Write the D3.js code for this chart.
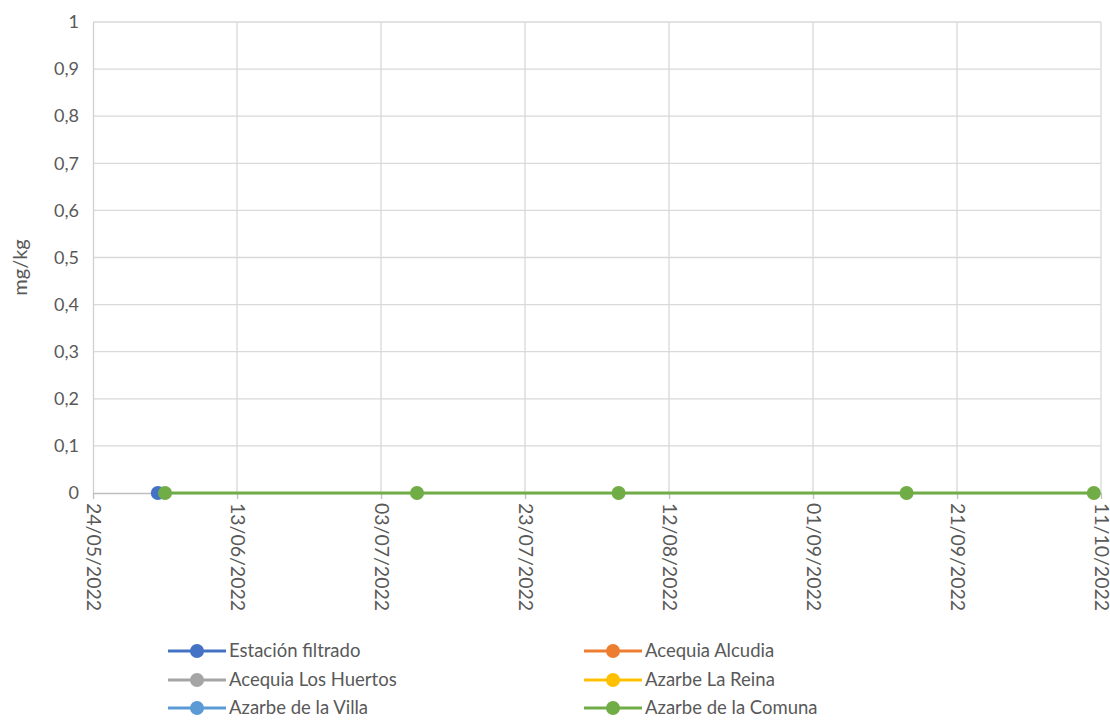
<!DOCTYPE html>
<html>
<head>
<meta charset="utf-8">
<script src="https://cdn.jsdelivr.net/npm/d3@7"></script>
<style>
  html, body { margin: 0; padding: 0; background: #fff; }
  svg { display: block; }
  text { font-family: Lato, "Open Sans", sans-serif; fill: #595959; }
</style>
</head>
<body>
<svg id="chart" width="1110" height="722"></svg>
<script>
// Series names and colours
const seriesNames = ["Estación filtrado", "Acequia Alcudia", "Acequia Los Huertos",
                     "Azarbe La Reina", "Azarbe de la Villa", "Azarbe de la Comuna"];
const seriesColors = ["#4472C4", "#ED7D31", "#A5A5A5", "#FFC000", "#5B9BD5", "#70AD47"];

// Sampling dates and values (mg/kg) per series
const estacionDates = ["2022-06-02"];
const estacionValues = [0];
const alcudiaDates = [];
const alcudiaValues = [];
const huertosDates = [];
const huertosValues = [];
const reinaDates = [];
const reinaValues = [];
const villaDates = [];
const villaValues = [];
const comunaDates = ["2022-06-03", "2022-07-08", "2022-08-05", "2022-09-14", "2022-10-10"];
const comunaValues = [0, 0, 0, 0, 0];

// Axis ticks
const xTickLabels = ["24/05/2022", "13/06/2022", "03/07/2022", "23/07/2022",
                     "12/08/2022", "01/09/2022", "21/09/2022", "11/10/2022"];
const yTicks = [0, 0.1, 0.2, 0.3, 0.4, 0.5, 0.6, 0.7, 0.8, 0.9, 1];

const parseISO = d3.timeParse("%Y-%m-%d");
const parseDMY = d3.timeParse("%d/%m/%Y");

const seriesDates = [estacionDates, alcudiaDates, huertosDates, reinaDates, villaDates, comunaDates];
const seriesValues = [estacionValues, alcudiaValues, huertosValues, reinaValues, villaValues, comunaValues];
const series = seriesNames.map((name, i) => ({
  name,
  color: seriesColors[i],
  points: seriesDates[i].map((d, j) => ({ date: parseISO(d), value: seriesValues[i][j] }))
}));

const svg = d3.select("#chart");
const plotLeft = 93, plotRight = 1101, plotTop = 22, plotBottom = 493;

const xTickDates = xTickLabels.map(parseDMY);
const x = d3.scaleTime()
  .domain([xTickDates[0], xTickDates[xTickDates.length - 1]])
  .range([plotLeft, plotRight]);
const y = d3.scaleLinear().domain([0, 1]).range([plotBottom, plotTop]);

const fmtY = v => d3.format(".1~f")(v).replace(".", ",");
const fmtX = d3.timeFormat("%d/%m/%Y");

// Horizontal gridlines
svg.append("g")
  .selectAll("line")
  .data(yTicks.filter(v => v > 0))
  .join("line")
  .attr("x1", plotLeft).attr("x2", plotRight)
  .attr("y1", d => y(d)).attr("y2", d => y(d))
  .attr("stroke", "#d9d9d9").attr("stroke-width", 1.3);

// Vertical gridlines
svg.append("g")
  .selectAll("line")
  .data(xTickDates.slice(1))
  .join("line")
  .attr("x1", d => x(d)).attr("x2", d => x(d))
  .attr("y1", plotTop).attr("y2", plotBottom)
  .attr("stroke", "#d9d9d9").attr("stroke-width", 1.3);

// Y axis
const yAxis = svg.append("g")
  .attr("transform", `translate(${plotLeft},0)`)
  .call(d3.axisLeft(y).tickValues(yTicks).tickFormat(fmtY).tickSize(0).tickPadding(14));
yAxis.select(".domain").attr("stroke", "#d0d0d0").attr("stroke-width", 1.3);
yAxis.selectAll("text").style("font-size", "18px").attr("fill", "#595959")
  .style("font-family", "Lato, 'Open Sans', sans-serif");

// X axis
const xAxis = svg.append("g")
  .attr("transform", `translate(0,${plotBottom})`)
  .call(d3.axisBottom(x).tickValues(xTickDates).tickFormat(fmtX).tickSize(6).tickSizeOuter(0));
xAxis.select(".domain").attr("stroke", "#bfbfbf").attr("stroke-width", 1.5);
xAxis.selectAll(".tick line").attr("stroke", "#bfbfbf").attr("stroke-width", 1.3);
xAxis.selectAll("text")
  .style("font-size", "19.5px").attr("fill", "#595959")
  .style("font-family", "Lato, 'Open Sans', sans-serif")
  .attr("text-anchor", "start")
  .attr("dy", null).attr("y", 0).attr("x", 0)
  .attr("transform", "translate(-7,10) rotate(90)");

// Y axis title
svg.append("text")
  .attr("transform", `translate(27,${(plotTop + plotBottom) / 2 + 10}) rotate(-90)`)
  .attr("text-anchor", "middle")
  .style("font-size", "20px")
  .attr("fill", "#404040")
  .text("mg/kg");

// Series lines and markers
const line = d3.line().x(d => x(d.date)).y(d => y(d.value));
const plot = svg.append("g");
series.forEach(s => {
  if (!s.points.length) return;
  plot.append("path")
    .datum(s.points)
    .attr("d", line)
    .attr("fill", "none")
    .attr("stroke", s.color)
    .attr("stroke-width", 3);
  plot.append("g")
    .selectAll("circle")
    .data(s.points)
    .join("circle")
    .attr("cx", d => x(d.date))
    .attr("cy", d => y(d.value))
    .attr("r", 7)
    .attr("fill", s.color);
});

// Legend in two columns
const legendCols = [168, 584];
const legendRows = [651, 680, 708];
const legend = svg.append("g");
series.forEach((s, i) => {
  const lx = legendCols[i % 2], ly = legendRows[Math.floor(i / 2)];
  const g = legend.append("g").attr("transform", `translate(${lx},${ly})`);
  g.append("line").attr("x1", 0).attr("x2", 58).attr("y1", 0).attr("y2", 0)
    .attr("stroke", s.color).attr("stroke-width", 3);
  g.append("circle").attr("cx", 29).attr("cy", 0).attr("r", 7).attr("fill", s.color);
  g.append("text").attr("x", 61).attr("y", 0).attr("dy", "0.35em")
    .style("font-size", "18.5px").attr("fill", "#595959").text(s.name);
});
</script>
</body>
</html>
